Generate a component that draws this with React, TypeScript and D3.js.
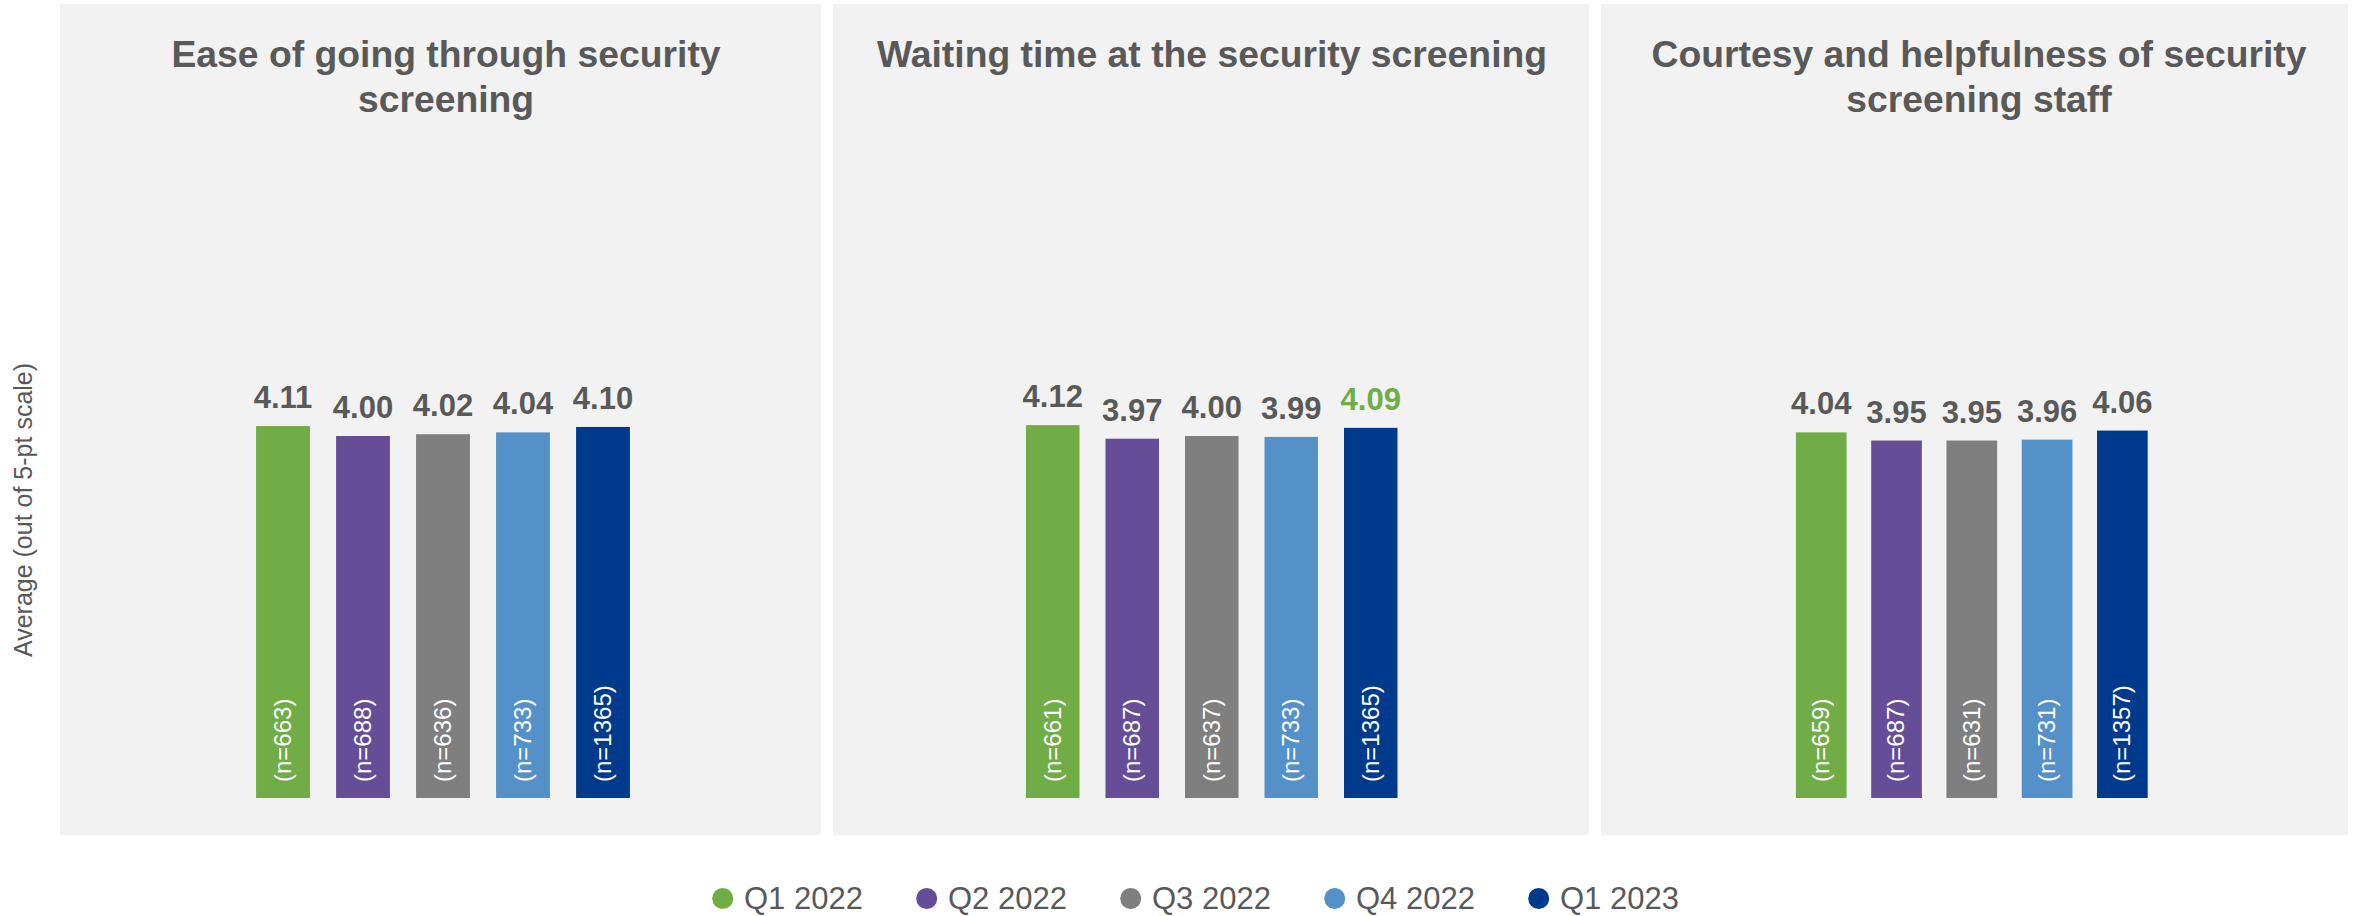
import React from "react";
import * as d3 from "d3";

const quarters = ["Q1 2022", "Q2 2022", "Q3 2022", "Q4 2022", "Q1 2023"];
const colors = ["#70AD47", "#654E97", "#7F7F7F", "#5591C9", "#003A8C"];

const titles = [
  ["Ease of going through security", "screening"],
  ["Waiting time at the security screening"],
  ["Courtesy and helpfulness of security", "screening staff"],
];

const easeValues = [4.11, 4.0, 4.02, 4.04, 4.1];
const easeN = [663, 688, 636, 733, 1365];
const waitValues = [4.12, 3.97, 4.0, 3.99, 4.09];
const waitN = [661, 687, 637, 733, 1365];
const courtesyValues = [4.04, 3.95, 3.95, 3.96, 4.06];
const courtesyN = [659, 687, 631, 731, 1357];

const highlighted = [[], [4], []];

const yLabel = "Average (out of 5-pt scale)";

const series = [
  { values: easeValues, n: easeN },
  { values: waitValues, n: waitN },
  { values: courtesyValues, n: courtesyN },
];

// layout (not data)
const W = 2364;
const H = 916;
const FONT = "'Liberation Sans', Arial, Helvetica, sans-serif";
const TEXT = "#595959";
const panels = [
  { x0: 60, x1: 821, r0: 243, r1: 643, titleX: 446 },
  { x0: 833, x1: 1589, r0: 1013, r1: 1410.5, titleX: 1212 },
  { x0: 1601, x1: 2348, r0: 1783.6, r1: 2160, titleX: 1979 },
];
const panelTop = 4;
const panelBottom = 835;

const y = d3.scaleLinear().domain([0, 5]).range([798, 345.5]);

export default function App() {
  return (
    <svg
      width={W}
      height={H}
      style={{ position: "absolute", left: 0, top: 0, background: "#fff" }}
      fontFamily={FONT}
    >
      <rect x={0} y={0} width={W} height={H} fill="#ffffff" />
      {panels.map((p, pi) => {
        const x = d3
          .scaleBand<string>()
          .domain(quarters)
          .range([p.r0, p.r1])
          .paddingInner(0.327)
          .paddingOuter(0.1635);
        const s = series[pi];
        return (
          <g key={pi}>
            <rect
              x={p.x0}
              y={panelTop}
              width={p.x1 - p.x0}
              height={panelBottom - panelTop}
              fill="#F2F2F2"
            />
            {titles[pi].map((line, li) => (
              <text
                key={li}
                x={p.titleX}
                y={66.7 + li * 45}
                textAnchor="middle"
                fontSize={37.3}
                fontWeight="bold"
                fill={TEXT}
              >
                {line}
              </text>
            ))}
            {quarters.map((q, i) => {
              const bx = x(q) as number;
              const bw = x.bandwidth();
              const cx = bx + bw / 2;
              const v = s.values[i];
              const hl = (highlighted[pi] as number[]).includes(i);
              return (
                <g key={q}>
                  <rect
                    x={bx}
                    y={y(v)}
                    width={bw}
                    height={y(0) - y(v)}
                    fill={colors[i]}
                  />
                  <text
                    x={cx}
                    y={y(v) - 18}
                    textAnchor="middle"
                    fontSize={31}
                    fontWeight="bold"
                    fill={hl ? "#70AD47" : TEXT}
                  >
                    {v.toFixed(2)}
                  </text>
                  <text
                    transform={`translate(${cx},${y(0) - 16}) rotate(-90)`}
                    textAnchor="start"
                    dy="0.33em"
                    fontSize={24}
                    fill="#ffffff"
                  >
                    {`(n=${s.n[i]})`}
                  </text>
                </g>
              );
            })}
          </g>
        );
      })}
      <text
        transform={`translate(32,510) rotate(-90)`}
        textAnchor="middle"
        fontSize={25}
        fill={TEXT}
      >
        {yLabel}
      </text>
      {quarters.map((q, i) => {
        const lx = 722.7 + i * 204;
        return (
          <g key={q}>
            <circle cx={lx} cy={898.5} r={10.5} fill={colors[i]} />
            <text x={lx + 21.3} y={909} fontSize={31} fill={TEXT}>
              {q}
            </text>
          </g>
        );
      })}
    </svg>
  );
}
